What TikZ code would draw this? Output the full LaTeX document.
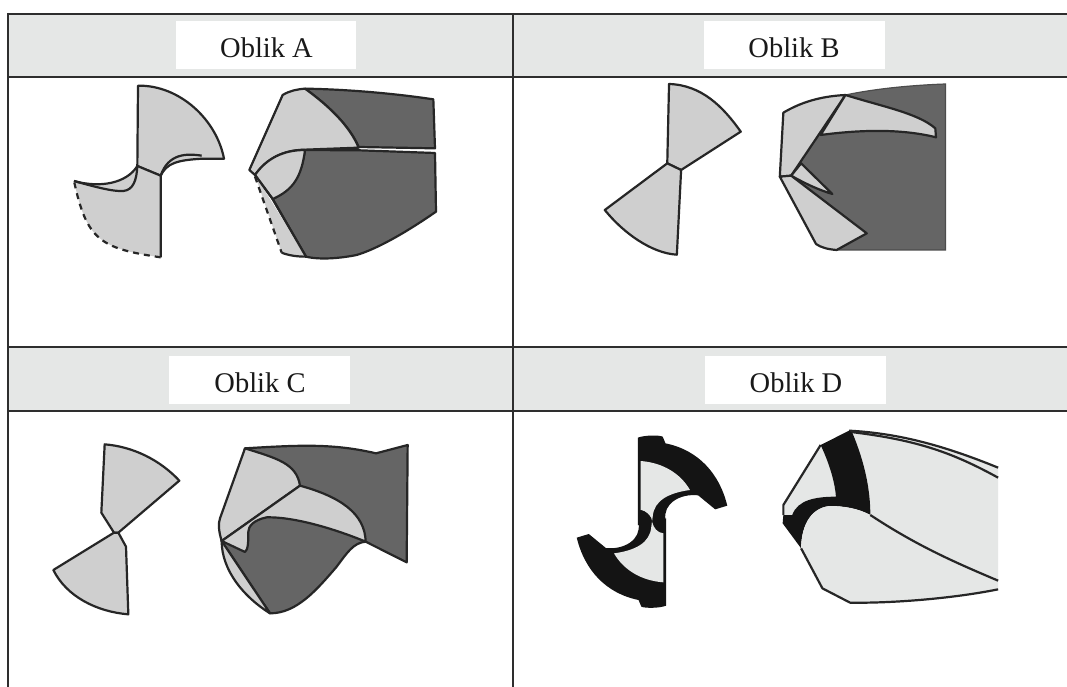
\documentclass[tikz,border=0pt]{standalone}
\usepackage{fontspec}
\setmainfont{Liberation Serif}
\definecolor{hdr}{HTML}{E5E7E6}
\definecolor{lite}{HTML}{CFCFCF}
\definecolor{dark}{HTML}{656565}
\definecolor{blk}{HTML}{141414}
\definecolor{pale}{HTML}{E5E7E6}
\tikzset{
  gridline/.style={draw=black!82,line width=2.4pt},
  hdrfill/.style={fill=hdr,draw=none},
  whitebox/.style={fill=white,draw=none},
  label/.style={font=\fontsize{28.5}{30}\selectfont,anchor=base,text=black!90,inner sep=0pt},
  ln/.style={draw=black!85,line width=2.2pt,line join=round},
  lt/.style={ln,fill=lite},
  dk/.style={ln,fill=dark},
  pl/.style={ln,fill=pale},
  dsh/.style={ln,dash pattern=on 6pt off 5pt},
  zoneL/.style 2 args={shift={(#1,#2)},x=0.33333pt,y=-0.33333pt},
  zoneR/.style 2 args={shift={(#1,#2)},x=0.355pt,y=-0.33333pt},
}
\begin{document}
\begin{tikzpicture}[x=1pt,y=-1pt]
\useasboundingbox (0,0) rectangle (1067,687);
\fill[white] (0,0) rectangle (1067,687);
\fill[hdrfill] (8,14) rectangle (1067,77);
\fill[hdrfill] (8,347) rectangle (1067,411);
\fill[whitebox] (176,21) rectangle (356,69);
\fill[whitebox] (704,21) rectangle (885,69);
\fill[whitebox] (169,356) rectangle (350,404);
\fill[whitebox] (705,356) rectangle (886,404);
\draw[gridline] (8,14) -- (1067,14);
\draw[gridline] (8,77) -- (1067,77);
\draw[gridline] (8,347) -- (1067,347);
\draw[gridline] (8,411) -- (1067,411);
\draw[gridline] (8,13) -- (8,687);
\draw[gridline] (513,13) -- (513,687);
\node[label] (a) at (266.5,58) {Oblik A};
\node[label] (b) at (794,58) {Oblik B};
\node[label] (c) at (260,392) {Oblik C};
\node[label] (d) at (796,392) {Oblik D};

% Panel A
\begin{scope}[zoneL={0}{0}]
\path[lt] (414,257) .. controls (540,255) and (650,360) .. (672,476) -- (610,476)
  .. controls (530,480) and (500,490) .. (482,527) -- (412,498) -- cycle;
\draw[ln] (605,467) .. controls (560,460) and (505,460) .. (482,527);
\path[fill=lite] (222,543) .. controls (300,565) and (380,550) .. (412,498) -- (482,527) -- (482,772)
  .. controls (300,745) and (260,720) .. (222,543) -- cycle;
\draw[ln] (222,543) .. controls (300,565) and (380,550) .. (412,498) -- (482,527) -- (482,772);
\draw[ln] (222,543) .. controls (290,562) and (340,575) .. (370,573) .. controls (400,570) and (410,540) .. (412,498);
\draw[dsh] (482,772) .. controls (300,745) and (260,720) .. (222,543);
% right
\path[dk] (915,266) .. controls (1040,268) and (1180,280) .. (1300,298) -- (1305,445) -- (1076,441)
  .. controls (1050,380) and (990,320) .. (915,266) -- cycle;
\path[dk] (915,450) -- (1080,451) -- (1305,459) -- (1308,635) .. controls (1200,710) and (1120,750) .. (1070,765)
  .. controls (1020,775) and (960,780) .. (918,770) -- (818,597) .. controls (890,560) and (905,510) .. (915,450) -- cycle;
\path[lt] (748,510) -- (848,285) .. controls (870,272) and (890,268) .. (915,266)
  .. controls (990,320) and (1050,380) .. (1076,443) -- (915,449) .. controls (850,450) and (800,475) .. (765,525) -- cycle;
\path[lt] (765,525) .. controls (800,475) and (850,450) .. (915,450) .. controls (905,530) and (880,570) .. (818,597) -- cycle;
\path[fill=lite] (765,525) -- (918,770) .. controls (890,770) and (865,766) .. (845,758) -- cycle;
\draw[ln] (765,525) -- (818,597) -- (918,770) .. controls (890,770) and (865,766) .. (845,758);
\draw[dsh] (765,530) -- (845,758);
\end{scope}

% Panel B
\begin{scope}[zoneR={510}{0}]
\path[lt] (448,252) .. controls (540,255) and (600,320) .. (650,395) -- (482,510) -- (443,490) -- cycle;
\path[lt] (443,490) -- (267,630) .. controls (320,700) and (400,760) .. (470,764) -- (482,510) -- cycle;
\path[draw=black!70,line width=1.2pt,fill=dark] (945,285) .. controls (1020,268) and (1120,256) .. (1227,252) -- (1227,750) -- (920,750) -- (792,527) -- cycle;
\path[lt] (770,338) .. controls (830,300) and (890,288) .. (945,285) -- (792,527) -- (760,530) -- cycle;
\path[lt] (945,285) .. controls (1050,320) and (1150,340) .. (1198,385) -- (1200,412) .. controls (1100,385) and (980,390) .. (875,405) -- cycle;
\path[lt] (792,527) -- (820,490) -- (908,582) .. controls (870,570) and (830,550) .. (792,527) -- cycle;
\path[lt] (760,530) -- (792,527) -- (1005,700) -- (920,750) .. controls (895,748) and (875,742) .. (862,732) -- cycle;
\end{scope}

% Panel C
\begin{scope}[zoneL={0}{340}]
\path[lt] (314,313) .. controls (400,320) and (480,360) .. (538,422) -- (355,578) -- (342,578) -- (304,518) -- cycle;
\path[lt] (342,578) -- (160,690) .. controls (200,770) and (290,815) .. (385,823) -- (378,620) -- (355,578) -- cycle;
\path[dk] (735,325) .. controls (900,315) and (1000,310) .. (1128,340) -- (1223,315) -- (1220,667) -- (1097,605)
  .. controls (1060,608) and (1040,640) .. (1010,680) .. controls (950,750) and (890,820) .. (810,820) -- (665,603) -- cycle;
\path[lt] (665,603) .. controls (665,690) and (730,770) .. (810,820) -- cycle;
\path[lt] (735,325) .. controls (830,355) and (890,370) .. (900,437) -- (665,603) .. controls (655,570) and (655,550) .. (660,535) -- cycle;
\path[lt] (900,437) .. controls (1020,470) and (1095,520) .. (1097,605) .. controls (1000,565) and (880,530) .. (800,532)
  .. controls (760,540) and (745,560) .. (745,575) .. controls (745,600) and (745,630) .. (735,636) -- (665,603) -- cycle;
\end{scope}

% Panel D
\begin{scope}[zoneR={510}{340}]
\foreach \r in {0,180} {
\begin{scope}[rotate around={\r:(400,545)}]
\path[fill=blk] (360,555) -- (360,293) .. controls (380,285) and (420,285) .. (430,290) -- (438,310)
  .. controls (530,330) and (590,400) .. (612,497) -- (578,508) -- (530,466)
  .. controls (480,460) and (430,490) .. (438,540) -- (432,580) .. controls (410,570) and (400,560) .. (400,545) -- cycle;
\path[fill=pale] (368,363) .. controls (430,368) and (480,400) .. (507,450) .. controls (450,458) and (405,480) .. (402,530)
  -- (400,545) .. controls (395,525) and (385,512) .. (368,510) -- cycle;
\end{scope}
}
% right
\path[fill=pale] (965,280) .. controls (1100,285) and (1250,330) .. (1375,383) -- (1375,722) .. controls (1260,670) and (1150,620) .. (1015,525)
  .. controls (1015,450) and (1000,370) .. (965,280) -- cycle;
\draw[ln] (955,272) .. controls (1100,280) and (1230,320) .. (1375,383);
\draw[ln] (960,276) .. controls (1150,300) and (1250,340) .. (1375,413);
\path[fill=pale] (875,315) -- (770,495) -- (770,525) -- (795,525) .. controls (810,480) and (860,470) .. (918,470) .. controls (915,420) and (895,360) .. (875,315) -- cycle;
\draw[ln] (875,315) -- (770,495) -- (770,525);
\path[fill=blk] (875,315) -- (955,272) -- (965,280) .. controls (1000,370) and (1015,450) .. (1015,525)
  .. controls (980,505) and (940,498) .. (900,498) .. controls (840,505) and (820,570) .. (820,625) -- (768,550) -- (770,525) -- (795,525)
  .. controls (810,480) and (860,470) .. (918,470) .. controls (915,420) and (895,360) .. (875,315) -- cycle;
\path[fill=pale] (820,625) .. controls (820,570) and (840,505) .. (900,498) .. controls (940,498) and (980,505) .. (1015,525)
  .. controls (1150,620) and (1260,670) .. (1375,722) -- (1375,748) .. controls (1250,775) and (1080,790) .. (958,788) -- (880,745) -- cycle;
\draw[ln] (1015,525) .. controls (1150,620) and (1260,670) .. (1375,722);
\draw[ln] (1375,748) .. controls (1250,775) and (1080,790) .. (958,788) -- (880,745) -- (820,625);
\end{scope}
\end{tikzpicture}
\end{document}
